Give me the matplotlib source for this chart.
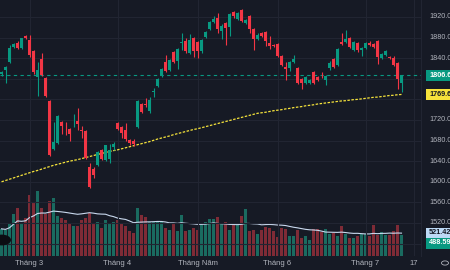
import numpy as np
import pandas as pd
import matplotlib
matplotlib.use("Agg")
import matplotlib.pyplot as plt
from matplotlib.patches import Rectangle, Circle

# daily candles (open, high, low, close)
opens = [1809, 1817, 1833, 1862, 1870, 1860, 1884, 1875, 1854, 1803,
         1838, 1801, 1757, 1664, 1676, 1716, 1697, 1702, 1708, 1719,
         1701, 1699, 1629, 1625, 1633, 1662, 1642, 1644, 1667, 1714,
         1706, 1701, 1681, 1680, 1706, 1751, 1751, 1738, 1775, 1786,
         1805, 1833, 1818, 1852, 1835, 1869, 1873, 1851, 1880, 1871,
         1853, 1882, 1897, 1910, 1919, 1893, 1908, 1900, 1929, 1917,
         1934, 1908, 1921, 1897, 1877, 1889, 1891, 1870, 1866, 1868,
         1845, 1823, 1821, 1833, 1821, 1800, 1791, 1792, 1814, 1803,
         1810, 1798, 1820, 1838, 1827, 1872, 1872, 1879, 1856, 1869,
         1855, 1860, 1870, 1868, 1873, 1840, 1846, 1843, 1840, 1830,
         1792]
highs = [1816, 1825, 1866, 1870, 1874, 1880, 1885, 1885, 1856, 1833,
         1850, 1804, 1758, 1717, 1729, 1718, 1716, 1705, 1732, 1743,
         1709, 1700, 1636, 1628, 1660, 1664, 1672, 1674, 1678, 1716,
         1708, 1714, 1683, 1684, 1758, 1753, 1763, 1765, 1783, 1802,
         1821, 1846, 1838, 1854, 1860, 1889, 1880, 1887, 1882, 1873,
         1877, 1893, 1912, 1922, 1927, 1906, 1910, 1928, 1931, 1929,
         1935, 1916, 1924, 1899, 1888, 1891, 1893, 1883, 1868, 1870,
         1847, 1833, 1835, 1846, 1823, 1802, 1805, 1800, 1816, 1805,
         1814, 1807, 1834, 1840, 1859, 1888, 1895, 1881, 1873, 1871,
         1862, 1871, 1873, 1870, 1875, 1850, 1856, 1845, 1845, 1832,
         1808]
lows = [1806, 1792, 1831, 1860, 1858, 1858, 1878, 1842, 1810, 1767,
        1805, 1765, 1650, 1662, 1674, 1692, 1690, 1679, 1706, 1701,
        1686, 1645, 1588, 1608, 1630, 1642, 1640, 1636, 1662, 1700,
        1685, 1680, 1672, 1670, 1704, 1734, 1745, 1733, 1765, 1784,
        1803, 1814, 1816, 1831, 1819, 1856, 1850, 1849, 1842, 1840,
        1851, 1880, 1895, 1908, 1889, 1877, 1866, 1884, 1919, 1915,
        1911, 1906, 1888, 1856, 1875, 1882, 1864, 1858, 1861, 1843,
        1825, 1798, 1815, 1831, 1789, 1781, 1789, 1790, 1789, 1796,
        1801, 1788, 1818, 1821, 1825, 1865, 1870, 1860, 1854, 1852,
        1844, 1858, 1864, 1860, 1829, 1838, 1844, 1838, 1825, 1780,
        1775]
closes = [1814, 1823, 1860, 1868, 1860, 1879, 1880, 1846, 1814, 1818,
          1807, 1767, 1652, 1677, 1728, 1709, 1696, 1693, 1709, 1712,
          1699, 1647, 1590, 1613, 1658, 1644, 1671, 1662, 1673, 1703,
          1694, 1683, 1675, 1674, 1757, 1736, 1749, 1759, 1777, 1800,
          1819, 1816, 1836, 1833, 1858, 1871, 1853, 1875, 1854, 1853,
          1875, 1891, 1910, 1917, 1896, 1902, 1899, 1926, 1921, 1927,
          1913, 1914, 1897, 1877, 1886, 1884, 1874, 1864, 1864, 1845,
          1827, 1819, 1833, 1838, 1791, 1791, 1803, 1798, 1791, 1798,
          1809, 1805, 1831, 1823, 1857, 1868, 1878, 1862, 1871, 1855,
          1860, 1869, 1866, 1862, 1843, 1848, 1854, 1840, 1827, 1800,
          1806.6]
volumes = [617, 594, 716, 958, 1102, 746, 860, 1390, 1208, 1466,
           1087, 958, 1261, 1322, 898, 860, 807, 731, 693, 693,
           807, 860, 973, 754, 784, 633, 807, 731, 784, 807,
           731, 693, 564, 519, 1102, 936, 883, 769, 769, 792,
           792, 633, 580, 746, 564, 936, 564, 580, 640, 602,
           708, 784, 845, 830, 883, 754, 784, 580, 708, 754,
           905, 1057, 557, 580, 489, 580, 670, 633, 557, 428,
           640, 617, 451, 451, 602, 413, 451, 368, 617, 617,
           542, 617, 504, 526, 451, 693, 489, 405, 405, 451,
           489, 489, 451, 708, 466, 542, 466, 481, 564, 708,
           488.59]
# 200-day moving average
ma200 = [1600, 1602.5, 1605, 1607.5, 1610, 1612.5, 1615, 1617.5, 1620, 1622,
         1624.5, 1627, 1629.5, 1632, 1634, 1636, 1638, 1640, 1641.5, 1643,
         1645, 1647, 1649, 1651, 1653, 1655, 1657, 1659, 1660.5, 1662,
         1664, 1666, 1668, 1670, 1672, 1674, 1676, 1678, 1680.5, 1683,
         1685, 1687, 1689, 1691.5, 1693.5, 1695.5, 1697.5, 1699.5, 1701.5, 1703,
         1705, 1707, 1709, 1711, 1713, 1715, 1717, 1719, 1721, 1723,
         1725, 1727, 1729, 1731, 1733, 1734, 1735, 1736.5, 1738, 1739,
         1740, 1741.5, 1742.5, 1744, 1745, 1746, 1747.5, 1748.5, 1749.5, 1751,
         1752, 1753, 1754, 1755, 1756, 1757, 1757.5, 1758.5, 1759.5, 1760,
         1761, 1762, 1763, 1764, 1764.5, 1765.5, 1766.5, 1767.5, 1768, 1769,
         1769.6]
month_pos = [7, 29, 49, 69, 91, 103]
month_labels = ["Tháng 3", "Tháng 4", "Tháng Năm", "Tháng 6", "Tháng 7", "17"]
price_ticks = [1480, 1520, 1560, 1600, 1640, 1680, 1720, 1760, 1800, 1840, 1880, 1920]
label_ticks = [1520, 1560, 1600, 1640, 1680, 1720, 1840, 1880, 1920]

BG = "#161a25"
GRID = "#212532"
UP = "#089981"
DOWN = "#f23645"
TXT = "#b2b5be"
FONT = "Liberation Sans"

df = pd.DataFrame({"o": opens, "h": highs, "l": lows, "c": closes, "v": volumes, "ma200": ma200})
df["vma"] = df["v"].rolling(20, min_periods=1).mean()
x = np.arange(len(df))
up = df["c"] >= df["o"]
cols = np.where(up, UP, DOWN)

fig = plt.figure(figsize=(4.5, 2.7), dpi=100, facecolor=BG)
W, H = 450, 270
ax = fig.add_axes([0, 14 / H, 421 / W, 256 / H])
axv = ax.twinx()
axv.set_zorder(ax.get_zorder() - 1)
ax.patch.set_visible(False)
axv.patch.set_facecolor(BG)

ax.set_xlim(-0.375, 104.875)
ax.set_ylim(1455.9, 1953.0)
axv.set_ylim(0, 5818)

# grid
for p in price_ticks:
    ax.axhline(p, color=GRID, lw=0.8, zorder=0)
for m in month_pos:
    ax.axvline(m, color=GRID, lw=0.8, zorder=0)

# volume
vcols = np.where(up, "#1a6b60", "#7f2b36")
axv.bar(x, df["v"], width=0.75, color=vcols, zorder=1)
axv.plot(x, df["vma"], color="#c9d9ee", lw=0.8, zorder=2)

# candles
ax.vlines(x, df["l"], df["h"], colors=cols, lw=0.8, zorder=3)
body_lo = np.minimum(df["o"], df["c"])
body_h = np.maximum(np.abs(df["c"] - df["o"]), 1.2)
ax.bar(x, body_h, bottom=body_lo, width=0.75, color=cols, zorder=4)

# 200 MA and last price line
ax.plot(x, df["ma200"], color="#f5e33b", lw=0.9, dashes=(2, 1.2), zorder=2)
ax.axhline(closes[-1], color=UP, lw=0.8, dashes=(3, 3), zorder=2)

for a in (ax, axv):
    a.set_xticks([])
    a.set_yticks([])
    for s in a.spines.values():
        s.set_visible(False)

# right price scale
for p in label_ticks:
    yf = (p - 1455.9) / (1953.0 - 1455.9) * 256 / H + 14 / H
    fig.text(429 / W, yf, f"{p:.1f}", color=TXT, fontsize=5.2, family=FONT,
             va="center", ha="left")
fig.add_artist(plt.Line2D([421 / W, 421 / W], [14 / H, 1], color=GRID, lw=0.8))

def tag(ypx, txt, bg, fg):
    yc = 1 - ypx / H
    fig.add_artist(Rectangle((426 / W, yc - 5.5 / H), 30 / W, 11 / H, transform=fig.transFigure,
                             facecolor=bg, edgecolor="none"))
    fig.text(429 / W, yc, txt, color=fg, fontsize=5.2, family=FONT, va="center", ha="left",
             fontweight="bold")

tag(75.5, "1806.6", UP, "white")
tag(94.5, "1769.6", "#f7e33b", "#131722")
tag(233, "521.42", "#bcd9f5", "#131722")
tag(243, "488.59", UP, "white")

# time axis
for m, lab in zip(month_pos, month_labels):
    xf = (4 * m + 1.5) / W
    fig.text(xf, 1 - 263.5 / H, lab, color=TXT, fontsize=5.5, family=FONT, ha="center", va="center")
fig.add_artist(Circle((445 / W, 1 - 263 / H), 3.5 / W, transform=fig.transFigure,
                      facecolor="none", edgecolor=TXT, lw=0.6))

# logo circle bottom left
fig.add_artist(Circle((2 / W, 1 - 240 / H), 9 / W, transform=fig.transFigure,
                      facecolor="#0b0d12", edgecolor="none"))

fig.savefig("out.png", dpi=100, facecolor=BG)
